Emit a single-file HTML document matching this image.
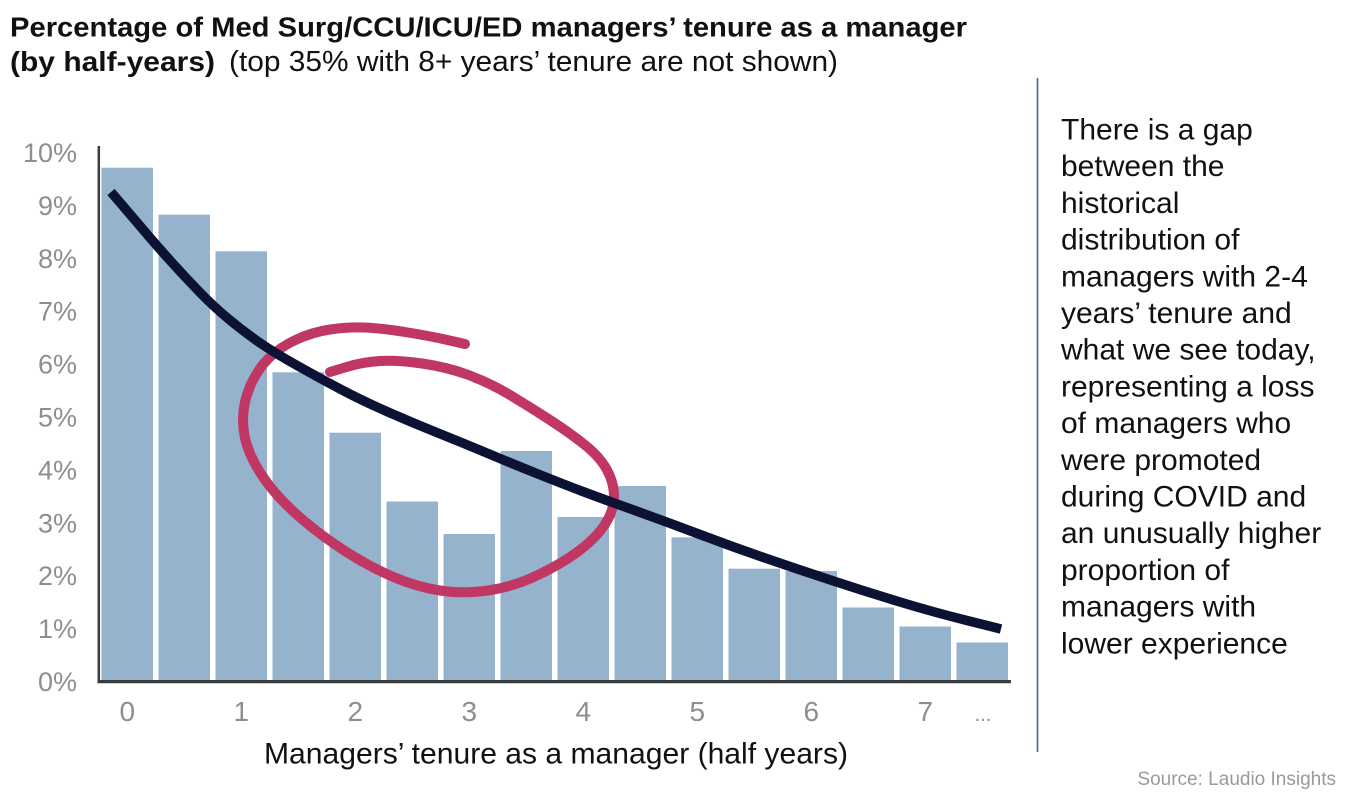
<!DOCTYPE html>
<html>
<head>
<meta charset="utf-8">
<style>
  html, body { margin: 0; padding: 0; background: #ffffff; }
  body { width: 1347px; height: 800px; overflow: hidden; }
  svg { display: block; }
  text { font-family: "Liberation Sans", "DejaVu Sans", sans-serif; }
</style>
</head>
<body>
<svg width="1347" height="800" viewBox="0 0 1347 800" xmlns="http://www.w3.org/2000/svg">
  <rect x="0" y="0" width="1347" height="800" fill="#ffffff"/>

  <!-- Title -->
  <text x="10" y="36.5" font-size="28" font-weight="bold" fill="#111111" textLength="957" lengthAdjust="spacingAndGlyphs">Percentage of Med Surg/CCU/ICU/ED managers’ tenure as a manager</text>
  <text x="10" y="71" font-size="28" font-weight="bold" fill="#111111" textLength="205" lengthAdjust="spacingAndGlyphs">(by half-years)</text>
  <text x="229" y="71" font-size="29" fill="#111111" textLength="609" lengthAdjust="spacingAndGlyphs">(top 35% with 8+ years’ tenure are not shown)</text>

  <!-- Bars -->
  <g fill="#95b3cd">
    <rect x="101.5" y="167.7" width="51.5" height="512.3"/>
    <rect x="158.5" y="214.7" width="51.5" height="465.3"/>
    <rect x="215.5" y="251.3" width="51.5" height="428.7"/>
    <rect x="272.5" y="372.3" width="51.5" height="307.7"/>
    <rect x="329.5" y="432.7" width="51.5" height="247.3"/>
    <rect x="386.5" y="501.5" width="51.5" height="178.5"/>
    <rect x="443.5" y="534" width="51.5" height="146"/>
    <rect x="500.5" y="451" width="51.5" height="229"/>
    <rect x="557.5" y="517" width="51.5" height="163"/>
    <rect x="614.5" y="486" width="51.5" height="194"/>
    <rect x="671.5" y="537.3" width="51.5" height="142.7"/>
    <rect x="728.5" y="568.7" width="51.5" height="111.3"/>
    <rect x="785.5" y="571" width="51.5" height="109"/>
    <rect x="842.5" y="607.5" width="51.5" height="72.5"/>
    <rect x="899.5" y="626.5" width="51.5" height="53.5"/>
    <rect x="956.5" y="642.5" width="51.5" height="37.5"/>
  </g>

  <!-- Hand-drawn circle -->
  <path d="M 465,344 L 447.5,340
           Q 430,336 405,332
           Q 380,328 363.5,327.5
           Q 347,327 330,329.5
           Q 313,332 296.5,339.5
           Q 280,347 268.5,358.5
           Q 257,370 250,386.5
           Q 243,403 243,420
           Q 243,437 250,453.5
           Q 257,470 270,486.5
           Q 283,503 303,520
           Q 323,537 346.5,552
           Q 370,567 393.5,577
           Q 417,587 440,590.5
           Q 463,594 488,590.5
           Q 513,587 538,575
           Q 563,563 580,550
           Q 597,537 605.5,523.5
           Q 614,510 614,496.5
           Q 614,483 607,470
           Q 600,457 585,445
           Q 570,433 550,420
           Q 530,407 510,395
           Q 490,383 468.5,375
           Q 447,367 422,363.5
           Q 397,360 380,361
           Q 363,362 346.5,367
           L 330,372"
        fill="none" stroke="#c13764" stroke-width="10" stroke-linecap="round" stroke-linejoin="round"/>

  <!-- Trend line -->
  <path d="M 111,192 L 123,206
           Q 135,220 146,233
           Q 157,246 171,261.5
           Q 185,277 199,291.5
           Q 213,306 228,318.5
           Q 243,331 258,341.5
           Q 273,352 298,366
           Q 323,380 343,390.5
           Q 363,401 388,412
           Q 413,423 438,433
           Q 463,443 488,453.5
           Q 513,464 538,474
           Q 563,484 581.5,491
           Q 600,498 633.5,510
           Q 667,522 700,534.5
           Q 733,547 766.5,558.5
           Q 800,570 833.5,581
           Q 867,592 900,602
           Q 933,612 967,620.5
           L 1001,629"
        fill="none" stroke="#0b1233" stroke-width="9.5" stroke-linecap="butt" stroke-linejoin="round"/>

  <!-- Axes -->
  <line x1="98.8" y1="146" x2="98.8" y2="683" stroke="#3d3d3d" stroke-width="2.5"/>
  <line x1="97.5" y1="681.6" x2="1011" y2="681.6" stroke="#3a3a3a" stroke-width="3.2"/>

  <!-- Y labels -->
  <g font-size="27" fill="#8e8e8e" text-anchor="end">
    <text x="77" y="162">10%</text>
    <text x="77" y="214.9">9%</text>
    <text x="77" y="267.8">8%</text>
    <text x="77" y="320.7">7%</text>
    <text x="77" y="373.6">6%</text>
    <text x="77" y="426.5">5%</text>
    <text x="77" y="479.4">4%</text>
    <text x="77" y="532.3">3%</text>
    <text x="77" y="585.2">2%</text>
    <text x="77" y="638.1">1%</text>
    <text x="77" y="691">0%</text>
  </g>

  <!-- X tick labels -->
  <g font-size="28" fill="#8e8e8e" text-anchor="middle">
    <text x="127.25" y="721">0</text>
    <text x="241.25" y="721">1</text>
    <text x="355.25" y="721">2</text>
    <text x="469.25" y="721">3</text>
    <text x="583.25" y="721">4</text>
    <text x="697.25" y="721">5</text>
    <text x="811.25" y="721">6</text>
    <text x="925.25" y="721">7</text>
  </g>
  <text x="983" y="721" font-size="20" fill="#8e8e8e" text-anchor="middle">...</text>

  <!-- X axis title -->
  <text x="264" y="763.3" font-size="30" fill="#111111" textLength="584" lengthAdjust="spacingAndGlyphs">Managers’ tenure as a manager (half years)</text>

  <!-- Divider -->
  <line x1="1037.5" y1="78" x2="1037.5" y2="752" stroke="#4a62a0" stroke-width="1.6"/>

  <!-- Right annotation -->
  <g font-size="30" fill="#111111">
    <text x="1061" y="139.5">There is a gap</text>
    <text x="1061" y="176.2">between the</text>
    <text x="1061" y="212.9">historical</text>
    <text x="1061" y="249.6">distribution of</text>
    <text x="1061" y="286.3">managers with 2-4</text>
    <text x="1061" y="323">years’ tenure and</text>
    <text x="1061" y="359.7">what we see today,</text>
    <text x="1061" y="396.4">representing a loss</text>
    <text x="1061" y="433.1">of managers who</text>
    <text x="1061" y="469.8">were promoted</text>
    <text x="1061" y="506.5">during COVID and</text>
    <text x="1061" y="543.2">an unusually higher</text>
    <text x="1061" y="579.9">proportion of</text>
    <text x="1061" y="616.6">managers with</text>
    <text x="1061" y="653.3">lower experience</text>
  </g>

  <!-- Source -->
  <text x="1336" y="785" font-size="19" fill="#9a9a9a" text-anchor="end">Source: Laudio Insights</text>
</svg>
</body>
</html>
